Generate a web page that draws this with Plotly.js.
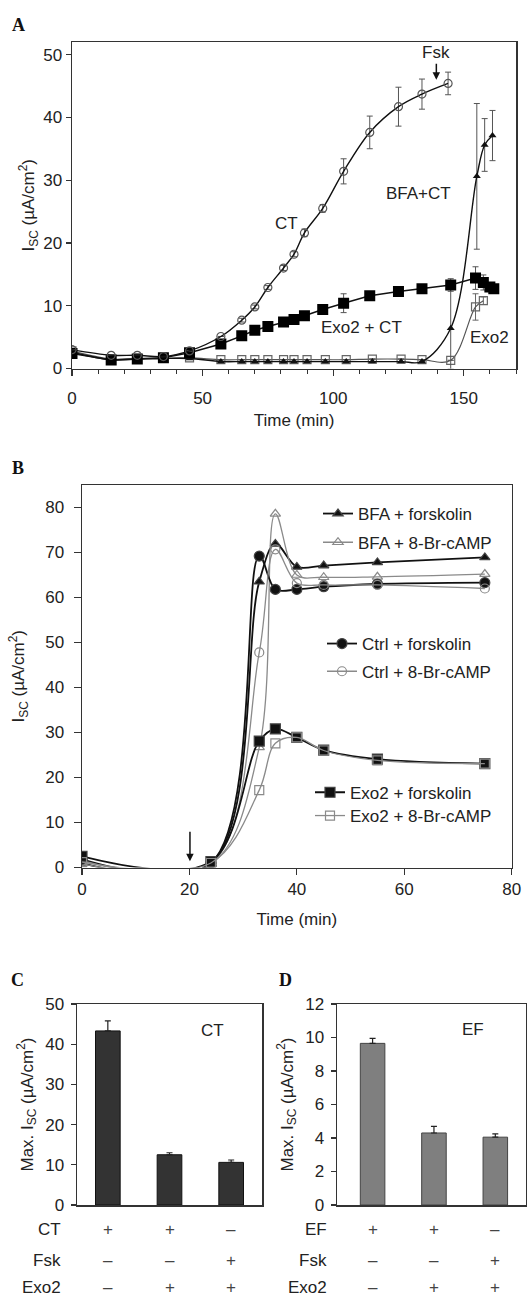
<!DOCTYPE html>
<html><head><meta charset="utf-8">
<script src="https://cdn.plot.ly/plotly-3.0.1.min.js"></script>
<style>html,body{margin:0;padding:0;background:#fff}#chart{width:527px;height:1297px}</style>
</head><body><div id="chart"></div>
<script>
// ---------- Panel A data ----------
const aTimeCT   = [0,15,25,35,45,57,65,70,75,81,85,89,96,104,114,125,134,144];
const aCT       = [3.0,2.1,2.1,1.9,2.8,5.1,7.7,9.8,12.9,16.0,18.2,21.6,25.5,31.4,37.6,41.7,43.7,45.4];
const aCTErr    = [0,0,0,0,0,0,0.3,0.3,0.3,0.4,0.4,0.6,0.6,2.0,2.6,3.1,2.4,1.8];
const aTimeExoCT= [0,15,25,35,45,57,65,70,75,81,85,89,96,104,114,125,134,145,154.5,157.5,160,161.5];
const aExoCT    = [2.4,1.35,1.5,1.7,2.5,3.9,5.2,6.1,6.7,7.4,7.8,8.4,9.4,10.4,11.6,12.25,12.7,13.3,14.4,13.7,13.0,12.7];
const aExoCTErr = [0,0,0,0,0,0,0,0,0,0,0,0,0,1.5,0,0,0,1.0,1.8,1.2,0,0];
const aTimeBFA  = [0,15,25,35,45,57,65,70,75,81,85,90,97,105,115,126,134,145,155,158,161];
const aBFA      = [2.6,1.4,1.5,1.6,1.6,1.1,1.1,1.1,1.1,1.1,1.1,1.1,1.1,1.1,1.1,1.1,1.1,6.4,30.6,35.6,37.1];
const aBFAErr   = [0,0,0,0,0,0,0,0,0,0,0,0,0,0,0,0,0,6.5,11.6,4.2,4.0];
const aTimeExo  = [0,15,25,35,45,57,65,70,75,81,85,90,97,105,115,126,134,145,154.5,157.5];
const aExo      = [2.8,1.5,1.6,1.6,1.7,1.4,1.4,1.4,1.4,1.4,1.4,1.4,1.4,1.4,1.5,1.5,1.4,1.3,9.8,10.8];
const aExoErr   = [0,0,0,0,0,0,0,0,0,0,0,0,0,0,0,0,0,0,2.1,0.6];

// ---------- Panel B data ----------
const bTime      = [0,24,33,36,40,45,55,75];
const bBFAFsk    = [1.0,0.8,63.5,71.9,66.8,67.1,67.8,68.9];
const bBFABr     = [0.8,0.8,26.7,78.6,65.0,64.5,64.6,65.2];
const bCtrlFsk   = [1.8,1.0,69.2,61.8,61.8,62.4,63.0,63.3];
const bCtrlBr    = [1.5,0.8,47.8,70.7,63.2,62.8,62.8,62.0];
const bExoFsk    = [2.5,1.3,28.1,30.8,28.9,26.1,24.1,23.1];
const bExoBr     = [1.2,1.0,17.2,27.6,28.9,26.0,23.8,23.1];
const bNames     = ['BFA + forskolin','BFA + 8-Br-cAMP','Ctrl + forskolin','Ctrl + 8-Br-cAMP','Exo2 + forskolin','Exo2 + 8-Br-cAMP'];

// ---------- Panels C / D data ----------
const cdGroups = [0,1,2];               // bar groups (described by the +/– table)
const cValues  = [43.3,12.5,10.6];
const cErr     = [2.5,0.5,0.6];
const dValues  = [9.65,4.3,4.05];
const dErr     = [0.3,0.4,0.2];
const cRows    = ['CT','Fsk','Exo2'];
const dRows    = ['EF','Fsk','Exo2'];
const signs    = [['+','+','\u2013'],['\u2013','\u2013','+'],['\u2013','+','+']];

// ---------- helpers ----------
const W = 527, H = 1297;
const fx = p => p / W;
const fy = p => 1 - p / H;
const FONT = 'Liberation Sans, Arial, sans-serif';
const DARK = '#111', GRAY = '#8a8a8a', AX = '#333';

const traces = [];
// Panel A
traces.push({x:aTimeExo, y:aExo, xaxis:'x', yaxis:'y', mode:'lines+markers', showlegend:false,
  line:{color:'#555', width:1.2, shape:'spline', smoothing:1},
  marker:{symbol:'square-open', size:8, color:'#666', line:{width:1.2}},
  error_y:{type:'data', array:aExoErr, color:'#666', thickness:1, width:3}});
traces.push({x:aTimeBFA, y:aBFA, xaxis:'x', yaxis:'y', mode:'lines+markers', showlegend:false,
  line:{color:DARK, width:1.4, shape:'spline', smoothing:1},
  marker:{symbol:'triangle-up', size:7, color:DARK},
  error_y:{type:'data', array:aBFAErr, color:'#555', thickness:1, width:3}});
traces.push({x:aTimeExoCT, y:aExoCT, xaxis:'x', yaxis:'y', mode:'lines+markers', showlegend:false,
  line:{color:DARK, width:1.5},
  marker:{symbol:'square', size:11, color:'#000'},
  error_y:{type:'data', array:aExoCTErr, color:'#555', thickness:1, width:3}});
traces.push({x:aTimeCT, y:aCT, xaxis:'x', yaxis:'y', mode:'lines+markers', showlegend:false,
  line:{color:DARK, width:1.4, shape:'spline', smoothing:1},
  marker:{symbol:'circle-open', size:8, color:'#555', line:{width:1.2}},
  error_y:{type:'data', array:aCTErr, color:'#555', thickness:1, width:3}});

// Panel B
const bSeries = [bBFAFsk,bBFABr,bCtrlFsk,bCtrlBr,bExoFsk,bExoBr];
const bSym = ['triangle-up','triangle-up-open','circle','circle-open','square','square-open'];
const bSize = [9,9,10,9,10,9];
const bLeg = ['legend','legend2','legend3','legend4','legend5','legend6'];
bSeries.forEach((ys,i)=>{
  const black = i % 2 === 0;
  traces.push({x:bTime, y:ys, xaxis:'x2', yaxis:'y2', mode:'lines+markers', name:bNames[i], legend:bLeg[i],
    line:{color: black ? DARK : GRAY, width: black ? 1.8 : 1.3, shape:'spline', smoothing:1},
    marker:{symbol:bSym[i], size:bSize[i], color: black ? DARK : GRAY, line:{width:1.2}}});
});

// Panel C / D
traces.push({type:'bar', x:cdGroups, y:cValues, xaxis:'x3', yaxis:'y3', width:0.4, showlegend:false,
  marker:{color:'#333', line:{color:'#111', width:1}},
  error_y:{type:'data', array:cErr, symmetric:false, arrayminus:[0,0,0], color:'#222', thickness:1.2, width:3}});
traces.push({type:'bar', x:cdGroups, y:dValues, xaxis:'x4', yaxis:'y4', width:0.4, showlegend:false,
  marker:{color:'#7f7f7f', line:{color:'#444', width:1}},
  error_y:{type:'data', array:dErr, symmetric:false, arrayminus:[0,0,0], color:'#222', thickness:1.2, width:3}});

const axBase = {showline:true, mirror:true, linecolor:AX, linewidth:1.5, showgrid:false, zeroline:false,
  ticks:'outside', tickcolor:AX, tickwidth:1.2, tickfont:{size:17, family:FONT, color:'#222'}};
const ytitle = (t,s) => ({text:t, font:{size:17, family:FONT, color:'#222'}, standoff:s});

const annotations = [];
// panel letters
[['A',18,25],['B',18,468],['C',17,980],['D',285,980]].forEach(([t,x,y])=>{
  annotations.push({text:'<b>'+t+'</b>', xref:'paper', yref:'paper', x:fx(x), y:fy(y), xanchor:'center', yanchor:'middle', showarrow:false,
    font:{size:18, family:'Liberation Serif, serif', color:'#111'}});
});
// text labels
const lab = (text,x,y,xr,yr)=>({text, x, y, xref:xr, yref:yr, xanchor:'center', yanchor:'middle', showarrow:false, font:{size:17, family:FONT, color:'#222'}});
annotations.push(lab('CT',82,23.1,'x','y'));
annotations.push(lab('BFA+CT',132.5,27.9,'x','y'));
annotations.push(lab('Exo2 + CT',110.8,6.6,'x','y'));
annotations.push(lab('Exo2',159.9,4.9,'x','y'));
annotations.push({text:'Fsk', x:139.5, y:46, xref:'x', yref:'y', ax:0, ay:-27, showarrow:true, arrowhead:2, arrowsize:1, arrowwidth:1.5, arrowcolor:'#111', font:{size:17, family:FONT, color:'#222'}});
annotations.push({text:'Fsk', x:142.8, y:-0.7, xref:'x', yref:'y', ax:0, ay:38, showarrow:true, arrowhead:2, arrowsize:1, arrowwidth:1.5, arrowcolor:'#111', font:{size:17, family:FONT, color:'#222'}});
// Panel B arrow
annotations.push({text:'', x:20.1, y:1.4, xref:'x2', yref:'y2', ax:0, ay:-31, showarrow:true, arrowhead:2, arrowsize:1, arrowwidth:1.5, arrowcolor:'#111'});
// Panel C / D inner labels
annotations.push(lab('CT',1.69,43.5,'x3','y3'));
annotations.push(lab('EF',1.63,10.5,'x4','y4'));
// tables
const rowY = [1229,1260,1287];
rowY.forEach((py,r)=>{
  annotations.push({text:cRows[r], xref:'paper', yref:'paper', x:fx(63), y:fy(py), xanchor:'right', yanchor:'middle', showarrow:false, font:{size:17, family:FONT, color:'#222'}});
  annotations.push({text:dRows[r], xref:'paper', yref:'paper', x:fx(329), y:fy(py), xanchor:'right', yanchor:'middle', showarrow:false, font:{size:17, family:FONT, color:'#222'}});
  cdGroups.forEach((g,i)=>{
    annotations.push({text:signs[r][i], xref:'x3', yref:'paper', x:g, y:fy(py), xanchor:'center', yanchor:'middle', showarrow:false, font:{size:17, family:FONT, color:'#444'}});
    annotations.push({text:signs[r][i], xref:'x4', yref:'paper', x:g, y:fy(py), xanchor:'center', yanchor:'middle', showarrow:false, font:{size:17, family:FONT, color:'#444'}});
  });
});

// legends for panel B
const legPos = [[358,514],[358,542.7],[362,644],[362,671.7],[350,792.7],[350,816]];
const layout = {
  width:W, height:H, margin:{l:0,r:0,t:0,b:0}, paper_bgcolor:'#fff', plot_bgcolor:'#fff',
  font:{family:FONT, color:'#222'},
  xaxis: Object.assign({}, axBase, {domain:[fx(72),fx(516)], anchor:'y', range:[0,170], dtick:50, tick0:0, ticklen:6, ticklabelstandoff:8,
    minor:{dtick:10, ticks:'outside', ticklen:4, tickcolor:AX, tickwidth:1, showgrid:false},
    title:{text:'Time (min)', font:{size:17, family:FONT, color:'#222'}, standoff:6}}),
  yaxis: Object.assign({}, axBase, {domain:[fy(368.5),fy(42)], anchor:'x', range:[0,52], dtick:10, ticklen:5,
    title:ytitle('I<sub>SC</sub> (\u00b5A/cm<sup>2</sup>)', 4)}),
  xaxis2: Object.assign({}, axBase, {domain:[fx(82),fx(511.7)], anchor:'y2', range:[0,80], dtick:20, ticklen:6,
    title:{text:'Time (min)', font:{size:17, family:FONT, color:'#222'}, standoff:14}}),
  yaxis2: Object.assign({}, axBase, {domain:[fy(867.5),fy(485)], anchor:'x2', range:[0,85], dtick:10, ticklen:7, ticklabelstandoff:6,
    title:ytitle('I<sub>SC</sub> (\u00b5A/cm<sup>2</sup>)', 16)}),
  xaxis3: Object.assign({}, axBase, {domain:[fx(77),fx(262)], anchor:'y3', type:'linear', range:[-0.5,2.5], ticks:'', showticklabels:false}),
  yaxis3: Object.assign({}, axBase, {domain:[fy(1205),fy(1004)], anchor:'x3', range:[0,50], dtick:10, ticklen:5, ticklabelstandoff:3,
    title:ytitle('Max. I<sub>SC</sub> (\u00b5A/cm<sup>2</sup>)')}),
  xaxis4: Object.assign({}, axBase, {domain:[fx(337),fx(526)], anchor:'y4', type:'linear', range:[-0.58,2.5], ticks:'', showticklabels:false}),
  yaxis4: Object.assign({}, axBase, {domain:[fy(1205),fy(1004)], anchor:'x4', range:[0,12], dtick:2, ticklen:5, ticklabelstandoff:3,
    title:ytitle('Max. I<sub>SC</sub> (\u00b5A/cm<sup>2</sup>)')}),
  annotations: annotations,
  showlegend:true
};
legPos.forEach(([tx,ty],i)=>{
  layout[bLeg[i]] = {x:fx(tx-40), y:fy(ty), xanchor:'left', yanchor:'middle', bgcolor:'rgba(0,0,0,0)', borderwidth:0,
    font:{size:17, family:FONT, color:'#222'}};
});
Plotly.newPlot('chart', traces, layout, {staticPlot:true, displayModeBar:false});
</script></body></html>
